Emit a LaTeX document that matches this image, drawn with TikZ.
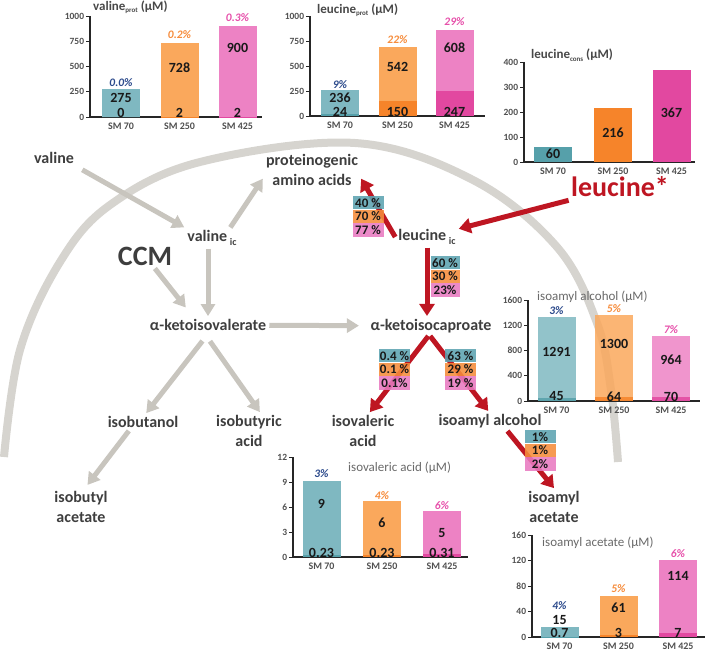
\documentclass[tikz,border=0pt]{standalone}
\usepackage{fontspec}
\setmainfont{Carlito}
\usetikzlibrary{positioning, arrows.meta}

\definecolor{labelGray}{RGB}{62,62,62}
\definecolor{arrowGray}{RGB}{200,197,190}
\definecolor{arcGray}{RGB}{214,212,207}
\definecolor{leuRed}{RGB}{190,22,34}
\definecolor{axisGray}{RGB}{80,80,80}
\definecolor{titleGray}{RGB}{72,72,72}
\definecolor{titleGrayLt}{RGB}{105,105,105}
\definecolor{bar1}{RGB}{127,184,193}
\definecolor{bar1dk}{RGB}{86,160,170}
\definecolor{bar2}{RGB}{250,168,92}
\definecolor{bar2dk}{RGB}{246,132,42}
\definecolor{bar3}{RGB}{237,130,196}
\definecolor{bar3dk}{RGB}{226,72,160}
\definecolor{pct1}{RGB}{45,75,140}
\definecolor{pct2}{RGB}{246,140,60}
\definecolor{pct3}{RGB}{230,80,170}
\definecolor{rowTeal}{RGB}{92,163,177}
\definecolor{rowOrange}{RGB}{245,140,58}
\definecolor{rowPink}{RGB}{232,122,192}

\newcommand{\lowtxt}[1]{\raisebox{-0.4ex}{\fontsize{7}{7}\selectfont #1}}
\newcommand{\lowic}[1]{\raisebox{-0.45ex}{\fontsize{10}{10}\selectfont #1}}

% axis with five ticks: prefix, tick step, tick labels, x-axis length
\newcommand{\chartaxes}[4]{%
  \foreach \v [count=\k from 0] in {#3}
    \draw[tickline] (-4,\k*#2) -- (0,\k*#2) node[ticklab, pos=0] (#1t\k) {\v};
  \draw[axisline] (0,4*#2) -- (0,0) -- (#4,0);
}
% three stacked bars: prefix, bar list
\newcommand{\stackbars}[2]{%
  \foreach \cx/\h/\hb/\va/\vay/\vb/\pct/\pcty/\sm [count=\i] in {#2}{
    \fill[bar, fill=bar\i] (\cx-19,0) rectangle (\cx+19,\h);
    \fill[bar, fill=bar\i dk] (\cx-19,0) rectangle (\cx+19,\hb);
    \node[barval] (#1v\i) at (\cx,\vay) {\va};
    \node[barval] (#1w\i) at (\cx,4.5) {\vb};
    \node[pctlab, text=pct\i] (#1p\i) at (\cx,\pcty) {\pct};
    \node[xlab] (#1x\i) at (\cx,-9.5) {\sm};
  }}

\begin{document}
\begin{tikzpicture}[
    x=1pt, y=-1pt,
    metab/.style={
        font=\fontsize{16}{20}\selectfont\bfseries,
        text=labelGray,
        align=center,
        inner sep=3pt
    },
    grayarrow/.style={
        draw=arrowGray,
        line width=5pt,
        -{Triangle[length=12pt,width=14pt]}
    },
    redarrow/.style={
        draw=leuRed,
        line width=5pt,
        -{Triangle[length=12pt,width=15pt]}
    },
    arcline/.style={draw=arcGray, line width=8pt},
    pctrow/.style={
        minimum width=31pt,
        minimum height=13.3pt,
        inner sep=0pt,
        fill opacity=0.88,
        text opacity=1,
        font=\fontsize{13}{13}\selectfont\bfseries,
        text=black!90
    },
    axisline/.style={draw=black!85, line width=1.8pt},
    tickline/.style={draw=black!85, line width=0.8pt},
    ticklab/.style={font=\fontsize{9.5}{10}\selectfont\bfseries, text=axisGray, anchor=east, inner sep=1.5pt},
    xlab/.style={font=\fontsize{10}{10}\selectfont\bfseries, text=axisGray, inner sep=0pt},
    barval/.style={font=\fontsize{14}{14}\selectfont\bfseries, text=black!90, inner sep=0pt},
    pctlab/.style={font=\fontsize{11.5}{12}\selectfont\bfseries\itshape, inner sep=0pt},
    charttitle/.style={font=\fontsize{13}{13}\selectfont\bfseries, text=titleGray, anchor=west, inner sep=0pt},
    lighttitle/.style={charttitle, font=\fontsize{13}{13}\selectfont, text=titleGrayLt},
    bar/.style={}
]
\useasboundingbox (0,0) rectangle (709,652);

% cell boundary
\draw[arcline] plot[smooth, tension=0.6] coordinates {(4,457) (20,350) (60,262) (110,205)
    (200,162) (355,143) (473,180) (557,247) (597,323) (611,390) (618,462)};

% 1. Charts
\begin{scope}[shift={(90,117)}, yscale=-1]
    \chartaxes{vp}{25.25}{0,250,500,750,1000}{172}
    \node[charttitle] (vptitle) at (3,110) {valine\lowtxt{prot} (µM)};
    \stackbars{vp}{31/27.8/0/275/19/0/0.0\%/34/SM 70,
        89.5/73.7/0.2/728/49/2/0.2\%/82/SM 250,
        147.5/91.1/0.2/900/69/2/0.3\%/99/SM 425}
\end{scope}

\begin{scope}[shift={(310,116)}, yscale=-1]
    \chartaxes{lp}{25}{0,250,500,750,1000}{175}
    \node[charttitle] (lptitle) at (7,106) {leucine\lowtxt{prot} (µM)};
    \stackbars{lp}{30/26/2.4/236/18/24/9\%/31/SM 70,
        87.5/69.2/15/542/49/150/22\%/76/SM 250,
        144.5/85.5/24.7/608/68/247/29\%/94/SM 425}
\end{scope}

\begin{scope}[shift={(524,162)}, yscale=-1]
    \chartaxes{lc}{25}{0,100,200,300,400}{171}
    \node[charttitle] (lctitle) at (7,107) {leucine\lowtxt{cons} (µM)};
    \foreach \cx/\h/\va/\vay/\sm [count=\i] in {29/15/60/8/SM 70,
        89/54/216/29/SM 250, 147.5/91.75/367/49/SM 425}{
        \fill[fill=bar\i dk] (\cx-19,0) rectangle (\cx+19,\h);
        \node[barval] (lcv\i) at (\cx,\vay) {\va};
        \node[xlab] (lcx\i) at (\cx,-9.5) {\sm};
    }
\end{scope}

\begin{scope}[shift={(528,401)}, yscale=-1, bar/.style={fill opacity=0.85}]
    \chartaxes{ia}{25.25}{0,400,800,1200,1600}{172}
    \node[lighttitle] (iatitle) at (9,104) {isoamyl alcohol (µM)};
    \stackbars{ia}{28.5/84.3/2.8/1291/49/45/3\%/90/SM 70,
        86/86.1/4/1300/57/64/5\%/92/SM 250,
        143/65.3/4.4/964/41/70/7\%/71/SM 425}
\end{scope}

\begin{scope}[shift={(293,557)}, yscale=-1]
    \chartaxes{iv}{25}{0,3,6,9,12}{175}
    \node[lighttitle] (ivtitle) at (55,89) {isovaleric acid (µM)};
    \stackbars{iv}{28.5/76/2/9/53/0.23/3\%/83/SM 70,
        89/56/2/6/34/0.23/4\%/61/SM 250,
        149/46/2.6/5/24/0.31/6\%/51/SM 425}
\end{scope}

\begin{scope}[shift={(532,637)}, yscale=-1]
    \chartaxes{ac}{25.5}{0,40,80,120,160}{173}
    \node[lighttitle] (actitle) at (10,94) {isoamyl acetate (µM)};
    \stackbars{ac}{27.5/10/0.45/15/17.5/0.7/4\%/31.5/SM 70,
        86.5/40.8/1.9/61/29/3/5\%/48/SM 250,
        146/77.1/4.5/114/61/7/6\%/83/SM 425}
\end{scope}

% 2. Metabolites
\node[metab] (valine) at (54,158) {valine};
\node[metab] (valineic) at (212,238) {valine\,\lowic{ic}};
\node[metab] (prot) at (312,170) {proteinogenic\\amino acids};
\node[metab, font=\fontsize{28}{30}\selectfont\bfseries] (ccm) at (145,256) {CCM};
\node[metab] (akiv) at (208,325) {α-ketoisovalerate};
\node[metab] (akic) at (431,326) {α-ketoisocaproate};
\node[metab] (leucineic) at (427,237) {leucine\,\lowic{ic}};
\node[metab, font=\fontsize{28}{30}\selectfont\bfseries, text=leuRed] (leucine) at (620,187) {leucine*};
\node[metab] (isobutanol) at (143,422) {isobutanol};
\node[metab] (isobutyric) at (249,431) {isobutyric\\acid};
\node[metab] (isobutylac) at (81,507) {isobutyl\\acetate};
\node[metab] (isovaleric) at (363,431) {isovaleric\\acid};
\node[metab] (isoamylalc) at (490,421) {isoamyl alcohol};
\node[metab] (isoamylac) at (554,507) {isoamyl\\acetate};

% 3. Valine branch
\draw[grayarrow, shorten <=6pt] (valine.south east) -- (valineic.north west);
\draw[grayarrow] (valineic.30) -- (prot.190);
\draw[grayarrow] (valineic.south -| akiv) -- (akiv.north);
\draw[grayarrow, shorten >=11pt] (ccm) -- (akiv.150);
\draw[grayarrow, shorten >=8.5pt] (akiv) -- (akic);
\draw[grayarrow, shorten <=9pt] (akiv.south) -- (isobutanol.70);
\draw[grayarrow, shorten <=9pt] (akiv.250) -- (isobutyric.60);
\draw[grayarrow, shorten >=4pt] (isobutanol.212) -- (isobutylac.78);

% 4. Leucine branch
\draw[redarrow] (leucine) -- (leucineic);
\draw[redarrow] (leucineic.180) -- (prot.-10);
\draw[redarrow] (leucineic.south) -- (leucineic.south |- akic.north);
\draw[redarrow] (akic.255) -- (isovaleric.70);
\draw[redarrow] (akic.265) -- (isoamylalc.100);
\draw[redarrow] (isoamylalc.330) -- (isoamylac.north);

% 5. Flux splits (SM 70 / SM 250 / SM 425)
\node[pctrow, fill=rowTeal] (sa1) at (368,202.6) {40 \%};
\node[pctrow, fill=rowOrange, below=0pt of sa1] (sa2) {70 \%};
\node[pctrow, fill=rowPink, below=0pt of sa2] (sa3) {77 \%};

\node[pctrow, fill=rowTeal, minimum width=29pt] (sb1) at (445,262.6) {60 \%};
\node[pctrow, fill=rowOrange, minimum width=29pt, below=0pt of sb1] (sb2) {30 \%};
\node[pctrow, fill=rowPink, minimum width=29pt, below=0pt of sb2] (sb3) {23\%};

\node[pctrow, fill=rowTeal] (sc1) at (394.5,355.6) {0.4 \%};
\node[pctrow, fill=rowOrange, below=0pt of sc1] (sc2) {0.1 \%};
\node[pctrow, fill=rowPink, below=0pt of sc2] (sc3) {0.1\%};

\node[pctrow, fill=rowTeal] (sd1) at (460.5,355.6) {63 \%};
\node[pctrow, fill=rowOrange, below=0pt of sd1] (sd2) {29 \%};
\node[pctrow, fill=rowPink, below=0pt of sd2] (sd3) {19 \%};

\node[pctrow, fill=rowTeal] (se1) at (540,436.6) {1\%};
\node[pctrow, fill=rowOrange, below=0pt of se1] (se2) {1\%};
\node[pctrow, fill=rowPink, below=0pt of se2] (se3) {2\%};

\end{tikzpicture}
\end{document}
